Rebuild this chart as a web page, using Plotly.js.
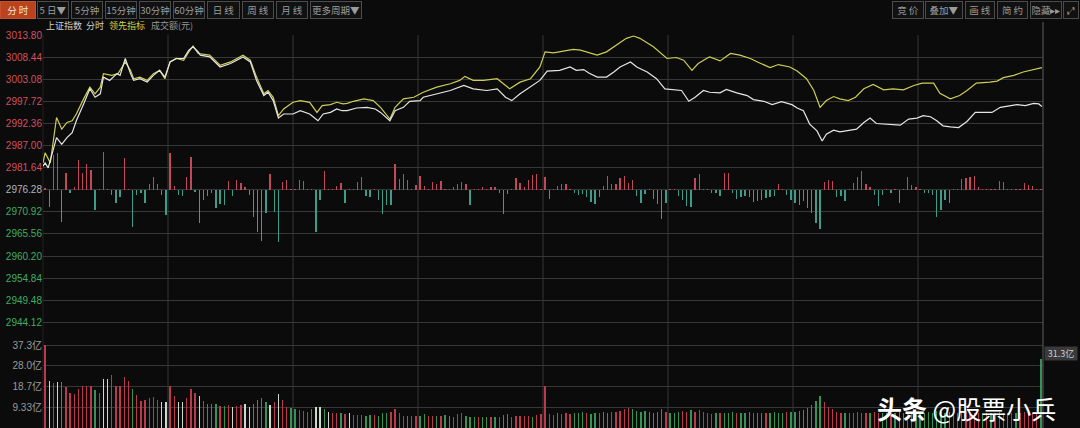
<!DOCTYPE html>
<html>
<head>
<meta charset="utf-8">
<script src="https://cdn.plot.ly/plotly-3.0.1.min.js"></script>
<style>
html,body{margin:0;padding:0;background:#0b0b0b;}
#chart{width:1080px;height:428px;}
</style>
</head>
<body>
<div id="chart"></div>
<script>
// ---------------- DATA ----------------
const prevClose = 2976.28;
const priceTicks = [3013.80, 3008.44, 3003.08, 2997.72, 2992.36, 2987.00, 2981.64, 2976.28, 2970.92, 2965.56, 2960.20, 2954.84, 2949.48, 2944.12];
const priceTickLabels = ['3013.80','3008.44','3003.08','2997.72','2992.36','2987.00','2981.64','2976.28','2970.92','2965.56','2960.20','2954.84','2949.48','2944.12'];
const pctTickLabels = ['1.26%','1.08%','0.90%','0.72%','0.54%','0.36%','0.18%','0.00%','0.18%','0.36%','0.54%','0.72%','0.90%','1.08%'];
const volTicks = [9.33, 18.7, 28.0, 37.3];
const volTickLabels = ['9.33亿','18.7亿','28.0亿','37.3亿'];
const dayGridMinutes = [120, 240, 360, 480, 600, 720, 840];

// [minute, price] — 上证指数 (white)
const indexLine = [
[0,2981.98],[2,2982.79],[5,2981.57],[13,2988.91],[18,2987.29],[23,2988.91],[28,2990.13],[32,2993.00],[39,2997.08],[45,3000.75],
[50,2998.70],[55,2999.53],[58,3003.59],[64,3002.79],[71,3004.43],[74,3004.01],[79,3008.10],[84,3004.43],[87,3002.79],[93,3003.20],
[100,3002.37],[106,3004.01],[112,3005.23],[117,3003.59],[122,3007.27],[128,3008.10],[135,3008.10],[140,3010.13],[144,3010.94],[149,3009.71],
[151,3008.91],[160,3008.49],[170,3006.04],[180,3006.87],[192,3008.49],[199,3007.27],[205,3002.79],[212,2999.11],[216,2999.92],[221,2997.89],
[226,2993.66],[231,2994.64],[240,2994.64],[247,2995.44],[256,2994.64],[264,2993.00],[269,2994.64],[276,2995.03],[282,2995.86],[287,2995.44],
[292,2995.44],[301,2996.10],[311,2996.25],[319,2995.86],[324,2995.03],[333,2993.00],[338,2995.44],[346,2996.25],[352,2997.72],[362,2997.89],
[365,2998.70],[378,2999.53],[391,3000.34],[404,3001.56],[413,3000.75],[426,3000.34],[436,3000.75],[444,2998.70],[450,2997.89],[458,2999.53],
[468,3001.15],[477,3002.79],[484,3005.06],[496,3005.23],[506,3006.04],[512,3005.23],[519,3005.41],[524,3004.57],[532,3003.59],[541,3003.59],
[548,3004.82],[554,3006.04],[564,3007.27],[570,3006.04],[580,3004.82],[589,3003.20],[597,3000.75],[605,3000.51],[613,3000.34],[620,2997.72],
[626,2998.70],[634,3000.34],[640,2999.92],[650,2999.78],[656,3000.58],[666,2999.78],[676,2999.11],[682,2998.14],[692,2997.72],[700,2996.91],
[709,2997.65],[719,2996.91],[724,2996.10],[730,2995.44],[736,2992.19],[743,2990.55],[748,2988.10],[752,2989.74],[759,2990.72],[765,2990.30],
[773,2990.55],[781,2990.96],[788,2992.58],[794,2993.66],[800,2992.34],[810,2992.19],[823,2991.94],[831,2993.41],[839,2993.66],[845,2994.22],
[852,2993.98],[858,2993.00],[864,2991.77],[871,2991.53],[879,2991.36],[887,2992.83],[895,2995.03],[903,2995.03],[911,2995.03],[919,2996.25],
[928,2996.67],[935,2996.91],[943,2996.67],[951,2997.23],[956,2997.08],[959,2996.42]
];

// [minute, price] — 领先指标 (yellow)
const leadLine = [
[0,2982.79],[2,2985.24],[7,2982.79],[13,2993.80],[18,2990.96],[23,2992.58],[28,2993.00],[32,2994.64],[39,2998.31],[45,3001.15],
[50,2999.53],[55,3001.15],[58,3004.43],[66,3004.01],[72,3004.43],[79,3007.27],[84,3005.23],[87,3003.20],[93,3003.59],[100,3002.79],
[106,3004.43],[112,3005.23],[117,3003.20],[122,3007.27],[128,3008.10],[135,3007.68],[140,3009.71],[144,3011.11],[149,3009.32],[160,3008.91],
[170,3006.46],[180,3007.27],[192,3008.91],[199,3007.68],[205,3003.59],[212,2999.53],[216,3000.34],[221,2998.70],[226,2994.22],[231,2995.86],
[240,2997.48],[247,2997.89],[256,2997.48],[263,2995.03],[268,2996.67],[276,2996.91],[282,2997.48],[288,2997.08],[292,2997.23],[298,2997.72],
[308,2998.31],[317,2997.89],[324,2996.25],[333,2993.41],[338,2996.25],[346,2998.31],[356,2998.70],[365,2999.92],[378,3001.15],[391,3001.98],
[400,3002.79],[405,3003.77],[413,3002.79],[423,3002.79],[436,3003.20],[442,3001.98],[448,3000.75],[458,3002.37],[468,3003.20],[477,3006.04],
[482,3009.71],[490,3009.47],[503,3009.96],[509,3010.30],[516,3010.13],[525,3009.47],[532,3008.91],[541,3009.71],[551,3011.35],[560,3012.99],
[567,3013.55],[573,3012.99],[586,3010.94],[599,3008.10],[608,3008.34],[615,3007.68],[623,3005.23],[629,3006.87],[637,3008.10],[640,3008.49],
[650,3007.51],[660,3009.32],[669,3008.91],[679,3008.10],[688,3007.02],[698,3005.89],[706,3006.63],[717,3006.04],[724,3005.06],[733,3003.20],
[740,3000.34],[746,2996.25],[752,2997.89],[759,2998.87],[765,2998.31],[773,2997.89],[780,2998.70],[788,3000.75],[797,3001.81],[807,3000.51],
[816,3000.75],[826,3000.51],[836,3001.56],[844,3002.13],[855,3002.13],[861,2999.68],[871,2998.31],[880,2999.11],[887,3000.34],[896,3002.13],
[909,3002.37],[916,3002.62],[922,3003.45],[932,3004.01],[941,3004.82],[951,3005.41],[959,3005.89]
];

// buy/sell strength bars (one per 4-minute slot), indicator units
const strength = [
1.7,-17,35,37,-32,17,-3,3,30,17,
26,20,-20,1,38,1,-5,-13,-7,32,
1,-37,-5,-3,-13,6,13,6,-5,-25,
37,4,-5,-6,13,33,-2,-33,-10,-6,
-3,-18,-14,-15,9,-6,10,7,3,-5,
-27,-42,-51,-23,16,-22,-52,8,10,1,
1,10,9,1,1,-42,-10,19,1,1,
4,7,-13,1,1,8,13,-6,-7,1,
-10,-24,-15,-15,26,11,16,10,1,5,
14,4,1,8,6,9,1,1,3,6,
8,6,-15,1,1,3,1,3,3,-3,
-24,-4,1,12,7,3,10,15,16,1,
13,-9,1,4,6,6,1,-3,-5,-4,
-7,-12,-14,-7,4,14,6,6,12,14,
7,10,-6,-13,-4,1,-9,-14,-29,-13,
1,1,-6,-10,-16,-17,12,16,1,1,
-3,-3,-6,17,17,-3,-9,-7,-6,-7,
-12,-11,-10,-8,-7,-6,6,1,-5,-10,
-13,-15,-11,-18,-23,-33,-39,8,10,9,
-7,-6,-11,1,7,13,19,6,3,-5,
-16,-5,1,-3,1,-13,1,13,5,3,
1,-3,-3,-5,-27,-20,-10,-13,1,1,
11,12,13,14,3,1,1,1,1,9,
8,1,1,1,1,7,5,4,1,1
];

// turnover (亿元) per 4-minute slot
const volume = [
37.3,21.3,20.1,20.7,20.7,18.3,15.9,15.3,17.4,18.9,
18.9,18.9,17.1,15.9,22.3,21.9,23.8,18.9,18.9,23.1,
21.3,17.8,14.8,12.3,12.6,13.3,14.1,12.6,11.8,11.8,
18.9,14.4,11.8,11.8,13.3,17.4,16.0,14.4,12.3,10.8,
10.8,10.8,9.9,9.9,10.3,9.3,9.9,10.3,10.8,9.6,
10.8,12.6,13.3,11.8,10.3,11.8,15.3,12.6,9.6,8.8,
8.5,8.1,7.8,7.3,8.4,9.6,9.3,8.4,7.3,6.6,
6.6,6.6,6.3,6.9,5.8,5.8,5.8,5.4,5.8,5.8,
5.4,6.6,6.9,7.3,8.4,6.6,5.4,5.4,5.4,5.4,
5.4,6.3,5.4,5.4,5.4,5.4,5.8,5.4,4.8,6.3,
6.6,5.4,5.1,4.8,4.8,4.8,5.1,4.8,4.8,4.8,
5.8,6.3,4.8,5.4,5.4,5.4,5.4,4.8,5.8,6.3,
18.9,6.3,5.8,6.6,6.3,6.9,6.3,6.6,6.9,7.3,
6.6,6.3,6.9,6.6,7.3,6.9,7.3,7.3,7.8,8.4,
8.8,8.4,7.8,7.3,7.8,7.3,6.9,7.3,8.4,7.3,
6.6,6.9,7.3,7.8,7.3,8.1,7.3,8.1,7.3,6.6,
6.3,6.9,6.6,6.9,6.6,7.3,6.9,6.6,6.9,7.3,
6.9,6.6,6.9,6.6,6.9,7.3,6.9,6.6,7.3,7.3,
7.3,7.8,8.1,8.8,10.3,12.3,14.4,11.8,9.6,8.4,
7.3,6.9,6.6,6.9,6.6,7.3,6.9,6.6,6.9,7.3,
6.6,6.9,6.6,6.9,6.6,7.3,6.9,7.3,6.6,6.9,
6.6,6.9,7.3,6.9,7.8,7.3,6.9,7.3,6.6,6.9,
7.3,7.8,7.3,6.9,6.6,6.9,6.6,6.9,6.6,7.3,
6.9,6.6,6.9,6.6,6.9,7.3,6.9,6.6,6.9,31.3
];
// bar colour codes: r = up, g = down, w = flat
const volumeColorCodes = (
"rwrwgrrrrr"+"rrgrwwrrrr"+"rgrrrrrrww"+"rrwwrrrwrg"+"ggrgrwrrww"+
"ggggwrwrrg"+"grrrgwwgwr"+"rgrwrrrggr"+"gggrrrrgrr"+"ggrrgrggrr"+
"rgggrggrgr"+"ggrrrrrgrr"+"rrrgrrrggg"+"rggrggrrrr"+"rggggggggr"+
"gggrrgrrrr"+"rgrgggrggg"+"rggrggggrg"+"gggggggrrr"+"rrgrrrrrgr"+
"rggrgggrrg"+"ggggggggrr"+"rrrrrgrgrr"+"rgrgrrrrrg").split('');
const lastVolumeLabel = '31.3亿';

// ---------------- STYLE ----------------
const BG = '#0b0b0b';
const GRID = '#373737';
const RED = '#d4505e';
const GREEN = '#3fae62';
const GRAY = '#b4b4b4';
const slotMinutes = 4;
const slotX = strength.map((_, i) => i * slotMinutes + slotMinutes / 2);

function tickColor(v) {
  if (Math.abs(v - prevClose) < 0.005) return GRAY;
  return v > prevClose ? RED : GREEN;
}
const leftText = priceTickLabels.map((t, k) => '<span style="color:' + tickColor(priceTicks[k]) + '">' + t + '</span>');
const rightText = pctTickLabels.map((t, k) => '<span style="color:' + tickColor(priceTicks[k]) + '">' + t + '</span>');

const volColorMap = { r: '#b83a4c', g: '#35935a', w: '#cfd8cf' };

const traces = [
  { type: 'bar', x: slotX, y: strength, yaxis: 'y3', width: 1.4,
    marker: { color: strength.map(v => v >= 0 ? '#c2485c' : '#3d9c8a'), line: { width: 0 } },
    hoverinfo: 'skip' },
  { type: 'bar', x: slotX, y: volume, yaxis: 'y4', width: 1.3,
    marker: { color: volumeColorCodes.map(c => volColorMap[c]), line: { width: 0 } },
    hoverinfo: 'skip' },
  { type: 'scatter', mode: 'lines', x: leadLine.map(p => p[0]), y: leadLine.map(p => p[1]),
    line: { color: '#cdcd55', width: 1.2 }, hoverinfo: 'skip' },
  { type: 'scatter', mode: 'lines', x: indexLine.map(p => p[0]), y: indexLine.map(p => p[1]),
    line: { color: '#e6e6e6', width: 1.2 }, hoverinfo: 'skip' }
];

// ---- geometry (pixels) ----
const W = 1080, H = 428, ML = 43, MR = 37, MT = 35, MB = 0;
const PW = W - ML - MR, PH = H - MT - MB;
const priceBottomPx = 333, volTopPx = 340;
const pxPerPoint = 22.1 / 5.36;
const priceRange = [priceTicks[0] - (priceBottomPx - MT) / pxPerPoint, priceTicks[0]];
const pxPerYi = 20.7 / 9.33;
const volRange = [0, (H - volTopPx) / pxPerYi];
const zeroPx = MT + (priceTicks[0] - prevClose) * pxPerPoint;
const strengthRange = [-(priceBottomPx - zeroPx), zeroPx - MT];

function xp(px) { return (px - ML) / PW; }
function yp(py) { return (H - MB - py) / PH; }

const CJK = 'Noto Sans CJK SC, Liberation Sans, sans-serif';
const annotations = [];
function button(text, x0, x1, active) {
  annotations.push({
    xref: 'paper', yref: 'paper', x: xp(x0), y: yp(10), xanchor: 'left', yanchor: 'middle',
    text: text, showarrow: false, width: x1 - x0 - 2, height: 16, borderpad: 0,
    bordercolor: active ? '#c8502a' : '#4c4c4c', borderwidth: 1,
    bgcolor: active ? '#b9421f' : '#111111',
    font: { family: CJK, size: 9.5, color: active ? '#f2e6dc' : '#9c9c9c' }, align: 'center'
  });
}
button('分 时', 0, 36, true);
button('5 日▼', 37, 69);
button('5分钟', 71, 103);
button('15分钟', 105, 137);
button('30分钟', 139, 171);
button('60分钟', 173, 205);
button('日 线', 207, 240);
button('周 线', 242, 274);
button('月 线', 276, 308);
button('更多周期▼', 310, 362);
button('竞 价', 892, 924);
button('叠加▼', 925, 963);
button('画 线', 965, 995);
button('简 约', 997, 1028);
button('隐藏▸▸', 1030, 1062);
button('⤢', 1063, 1079);

function label(text, x, color) {
  annotations.push({ xref: 'paper', yref: 'paper', x: xp(x), y: yp(25), xanchor: 'left', yanchor: 'middle',
    text: text, showarrow: false, font: { family: CJK, size: 9, color: color } });
}
label('上证指数', 44, '#cfcfcf');
label('分时', 84, '#cfcfcf');
label('领先指标', 107, '#d2d24a');
label('成交额(元)', 149, '#979797');

annotations.push({ xref: 'paper', yref: 'y4', x: xp(1044), y: volume[volume.length - 1], xanchor: 'left', yanchor: 'middle',
  yshift: 5, text: lastVolumeLabel, showarrow: false, bgcolor: '#3a3a3a', width: 32, height: 13, borderpad: 0,
  font: { family: CJK, size: 9, color: '#cfcfcf' } });

annotations.push({ xref: 'paper', yref: 'paper', x: xp(966), y: yp(408), xanchor: 'center', yanchor: 'middle',
  text: '<b>头条</b> @股票小兵', showarrow: false, font: { family: CJK, size: 25, color: '#ffffff' } });

const shapes = dayGridMinutes.map(m => ({ type: 'line', xref: 'x', yref: 'paper', x0: m, x1: m, y0: 0, y1: 1,
  line: { color: GRID, width: 1 }, layer: 'below' }));
shapes.push({ type: 'line', xref: 'paper', yref: 'paper', x0: 1, x1: 1, y0: 0, y1: yp(22), line: { color: '#5e5e5e', width: 1 } });
shapes.push({ type: 'line', xref: 'paper', yref: 'paper', x0: 0, x1: 0, y0: 0, y1: 1, line: { color: '#222222', width: 1 }, layer: 'below' });

const tickFont = { family: 'Liberation Sans, Noto Sans CJK SC, sans-serif', size: 10, color: GRAY };

const layout = {
  width: W, height: H,
  margin: { l: ML, r: MR, t: MT, b: MB, pad: 0 },
  paper_bgcolor: BG, plot_bgcolor: BG,
  showlegend: false, barmode: 'overlay', bargap: 0,
  xaxis: { range: [0, 960], showticklabels: false, showgrid: false, zeroline: false, showline: false, ticks: '', fixedrange: true },
  yaxis: { domain: [yp(priceBottomPx), 1], range: priceRange, tickmode: 'array', tickvals: priceTicks, ticktext: leftText,
    showgrid: true, gridcolor: GRID, gridwidth: 1, zeroline: false, showline: false, ticks: '', tickfont: tickFont, fixedrange: true },
  yaxis2: { overlaying: 'y', side: 'right', range: priceRange, tickmode: 'array', tickvals: priceTicks, ticktext: rightText,
    showgrid: false, zeroline: false, showline: false, ticks: '', tickfont: tickFont, fixedrange: true },
  yaxis3: { overlaying: 'y', range: strengthRange, visible: false, showgrid: false, zeroline: false, fixedrange: true },
  yaxis4: { domain: [0, yp(volTopPx)], range: volRange, anchor: 'x', tickmode: 'array', tickvals: volTicks, ticktext: volTickLabels,
    showgrid: true, gridcolor: GRID, gridwidth: 1, zeroline: false, showline: false, ticks: '',
    tickfont: { family: 'Liberation Sans, Noto Sans CJK SC, sans-serif', size: 10, color: '#9a9a9a' }, fixedrange: true },
  shapes: shapes,
  annotations: annotations
};

Plotly.newPlot('chart', traces, layout, { staticPlot: true, displayModeBar: false });
</script>
</body>
</html>
